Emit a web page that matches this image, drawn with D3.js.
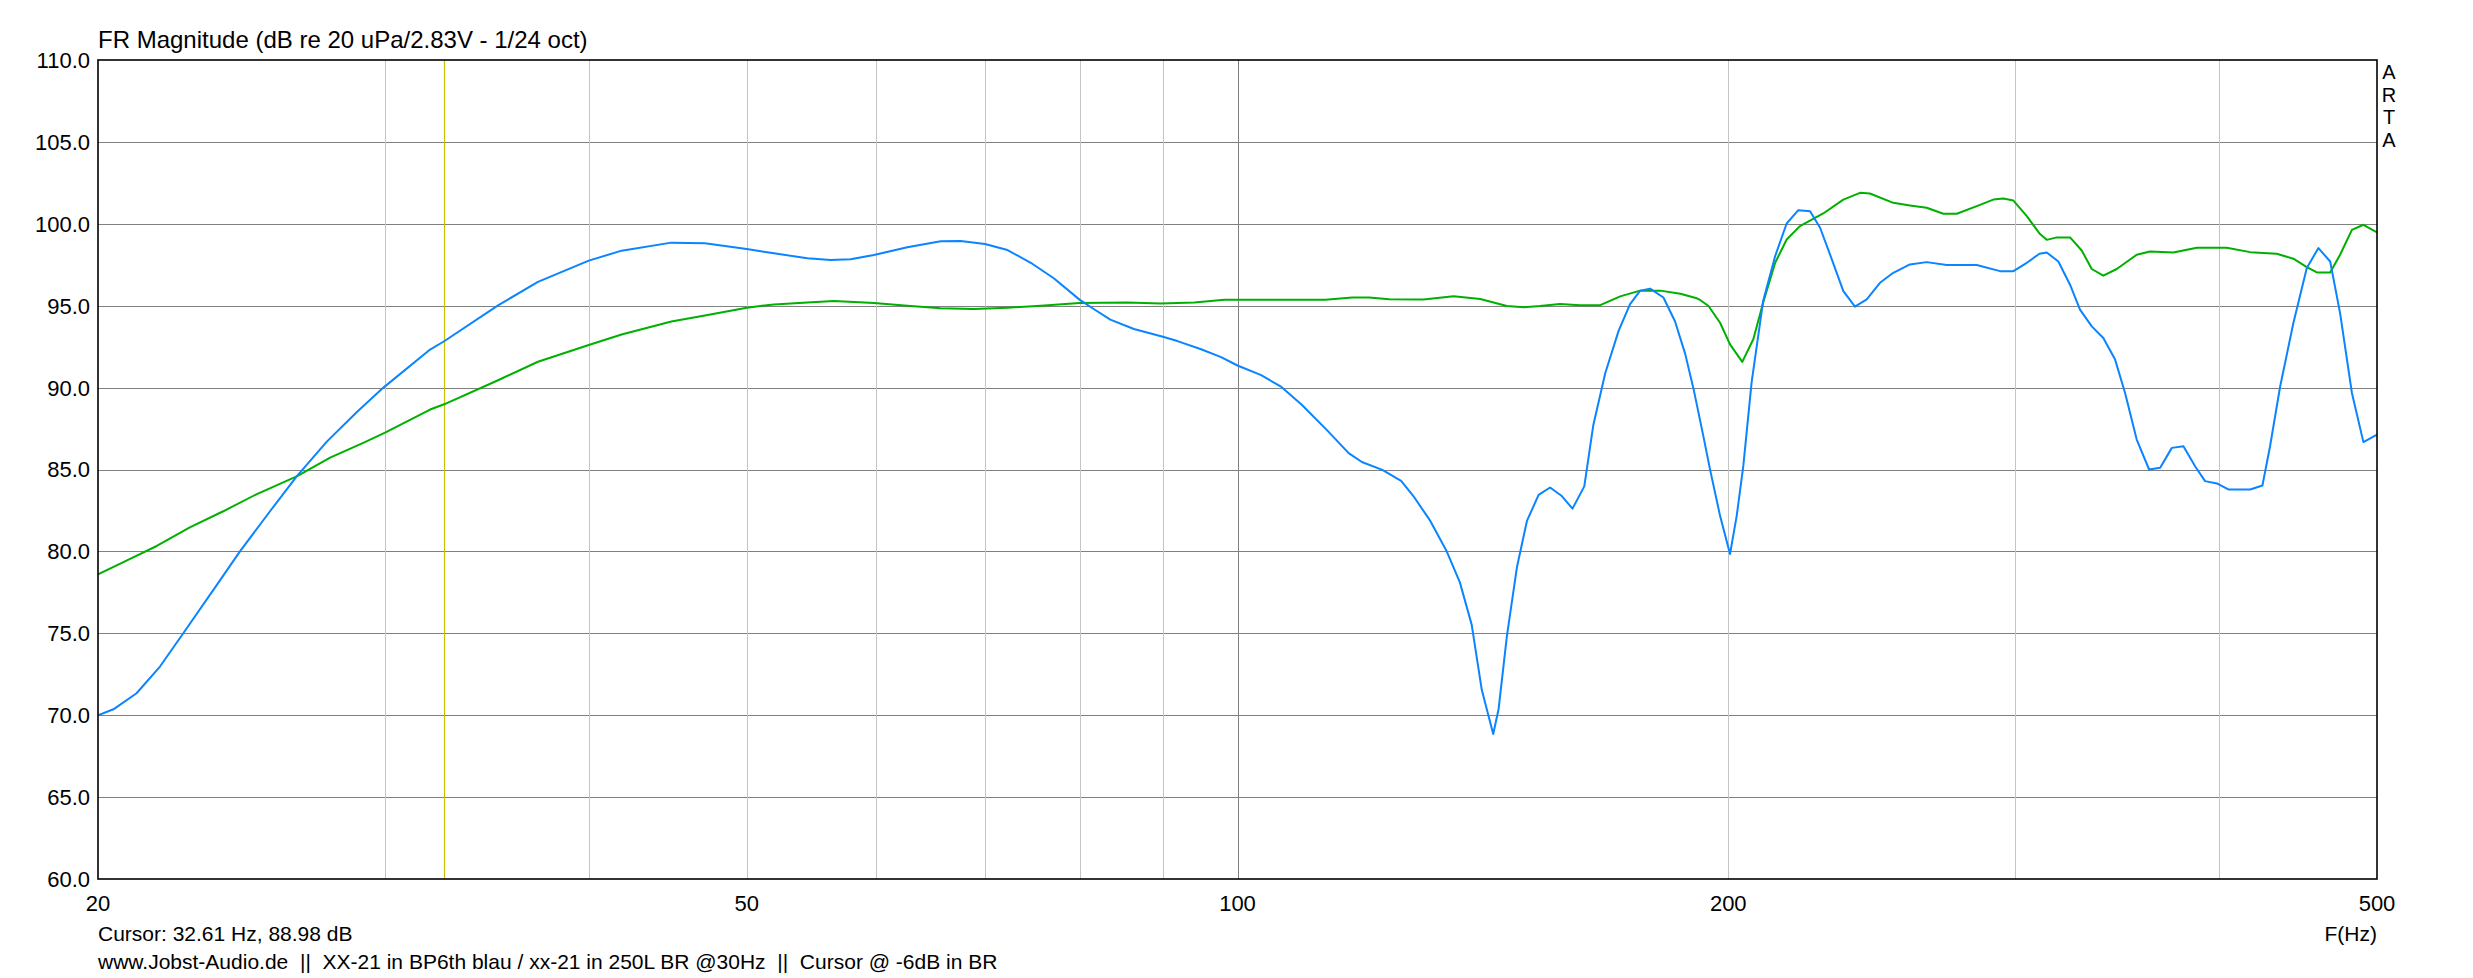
<!DOCTYPE html>
<html>
<head>
<meta charset="utf-8">
<script src="https://cdn.jsdelivr.net/npm/d3@7"></script>
<style>
  html, body { margin: 0; padding: 0; background: #ffffff; }
  svg { display: block; }
  text { font-family: "Liberation Sans", Arial, sans-serif; fill: #000; }
</style>
</head>
<body>
<svg id="chart" width="2473" height="978"></svg>
<script>
// ---------------- data ----------------
const titleText = "FR Magnitude (dB re 20 uPa/2.83V - 1/24 oct)";
const cursorText = "Cursor: 32.61 Hz, 88.98 dB";
const footerText = "www.Jobst-Audio.de  ||  XX-21 in BP6th blau / xx-21 in 250L BR @30Hz  ||  Cursor @ -6dB in BR";
const xAxisLabel = "F(Hz)";
const brandLetters = ["A", "R", "T", "A"];

const xTickLabels = [20, 50, 100, 200, 500];
const xGridMinor = [30, 40, 50, 60, 70, 80, 90, 200, 300, 400];
const xGridMajor = [100];
const yTicks = [60, 65, 70, 75, 80, 85, 90, 95, 100, 105, 110];
const cursorFreq = 32.61;

// Blue: XX-21 in BP6th
const blueFreq = [20, 20.44, 21.12, 21.83, 22.56, 23.65, 24.44, 25.50, 26.48, 27.63, 28.82, 29.93, 31.97, 32.61,
  35.19, 37.23, 40.0, 41.90, 44.95, 47.13, 50.0, 51.96, 54.47, 56.29, 57.91, 59.84, 62.73, 65.75, 67.64, 70.0,
  72.26, 74.68, 77.18, 80.0, 81.62, 83.56, 86.39, 90.0, 91.87, 94.99, 97.71, 100, 103.4, 106.4, 109.5, 113.7,
  117.0, 119.2, 122.7, 126.0, 128.2, 131.3, 134.4, 136.9, 139.2, 141.2, 143.5, 144.6, 146.3, 148.4, 150.5,
  153.0, 155.5, 158.1, 160.5, 163.2, 165.3, 168.1, 171.3, 174.1, 176.6, 179.1, 182.5, 185.5, 188.2, 190.4,
  193.1, 194.9, 197.7, 200.5, 202.4, 204.3, 206.7, 210.1, 213.7, 217.2, 220.8, 224.5, 227.7, 231.5, 235.3,
  239.2, 243.2, 247.8, 252.5, 258.5, 264.7, 272.3, 284.1, 293.6, 299.2, 304.9, 310.4, 313.6, 318.8, 324.1,
  328.7, 334.2, 339.7, 345.4, 350.3, 356.1, 362.4, 368.1, 374.2, 380.4, 386.7, 392.2, 398.8, 405.3, 418.0,
  425.3, 429.9, 436.1, 444.3, 452.8, 460.3, 468.0, 474.6, 482.6, 490.5, 500];
const blueDb = [70.0, 70.36, 71.34, 72.97, 75.0, 77.94, 80.0, 82.45, 84.58, 86.7, 88.5, 90.0, 92.32, 92.83,
  95.02, 96.45, 97.75, 98.36, 98.85, 98.81, 98.46, 98.2, 97.89, 97.79, 97.83, 98.1, 98.57, 98.93, 98.95, 98.77,
  98.4, 97.62, 96.66, 95.37, 94.8, 94.15, 93.58, 93.1, 92.84, 92.34, 91.86, 91.35, 90.76, 90.04, 88.95, 87.31,
  86.0, 85.46, 84.98, 84.3, 83.38, 81.86, 79.99, 78.11, 75.53, 71.55, 68.85, 70.38, 74.83, 79.05, 81.86,
  83.45, 83.9, 83.38, 82.61, 83.97, 87.72, 90.88, 93.46, 95.1, 95.92, 96.04, 95.5, 94.05, 92.06, 89.95,
  87.02, 85.02, 82.17, 79.84, 82.17, 85.22, 90.3, 95.28, 98.03, 100.02, 100.83, 100.77, 99.76, 97.83, 95.89,
  94.94, 95.39, 96.4, 97.01, 97.52, 97.66, 97.48, 97.48, 97.11, 97.11, 97.62, 98.17, 98.25, 97.7, 96.28,
  94.76, 93.74, 93.03, 91.71, 89.67, 86.83, 85.0, 85.1, 86.32, 86.42, 85.2, 84.29, 84.15, 83.78, 83.78,
  84.02, 86.42, 90.08, 93.94, 97.3, 98.52, 97.7, 94.55, 89.67, 86.67, 87.13];

// Green: xx-21 in 250L BR @30Hz
const greenFreq = [20, 20.73, 21.73, 22.77, 23.87, 25.03, 26.48, 27.76, 29.09, 30.0, 31.97, 32.61, 35.19, 37.23,
  40.0, 41.90, 44.95, 47.13, 50.0, 51.96, 54.47, 56.56, 59.84, 62.73, 65.75, 68.92, 72.26, 75.74, 80.0, 85.57,
  89.73, 94.08, 98.18, 103.4, 113.2, 117.6, 120.4, 123.9, 130.0, 135.7, 140.9, 146.3, 149.8, 153.3, 157.7,
  162.2, 166.9, 171.7, 176.6, 181.7, 186.9, 191.3, 192.2, 194.5, 197.7, 200.5, 204.0, 207.2, 210.1, 213.7,
  217.2, 221.3, 228.7, 235.3, 240.9, 244.3, 252.5, 258.5, 264.7, 271.0, 276.2, 284.1, 290.8, 295.0, 299.2,
  304.9, 310.4, 313.6, 318.1, 324.1, 329.5, 334.2, 339.7, 346.2, 356.1, 362.9, 375.0, 387.7, 404.4, 418.0,
  434.0, 444.3, 452.8, 459.3, 468.0, 474.6, 482.6, 490.5, 500];
const greenDb = [78.6, 79.35, 80.33, 81.47, 82.45, 83.5, 84.58, 85.72, 86.63, 87.25, 88.66, 88.98, 90.45, 91.58,
  92.6, 93.24, 94.04, 94.4, 94.88, 95.08, 95.2, 95.29, 95.16, 95.0, 94.84, 94.8, 94.88, 95.0, 95.16, 95.2,
  95.13, 95.2, 95.37, 95.37, 95.37, 95.5, 95.5, 95.39, 95.38, 95.57, 95.41, 94.98, 94.91, 94.98, 95.1,
  95.03, 95.03, 95.57, 95.92, 95.92, 95.73, 95.45, 95.35, 94.98, 93.96, 92.64, 91.57, 92.95, 95.18, 97.62,
  99.04, 99.86, 100.63, 101.48, 101.89, 101.85, 101.28, 101.12, 100.98, 100.61, 100.61, 101.08, 101.48, 101.54, 101.42,
  100.47, 99.41, 99.02, 99.17, 99.17, 98.37, 97.24, 96.83, 97.24, 98.11, 98.31, 98.25, 98.54, 98.54, 98.27,
  98.17, 97.87, 97.36, 97.03, 97.03, 98.11, 99.63, 99.94, 99.47];

// ---------------- layout ----------------
const W = 2473, H = 978;
const plot = { left: 98, right: 2377, top: 60, bottom: 879 };
const colors = { blue: "#0a84ff", green: "#00b000", cursor: "#c8c000",
  gridH: "#808080", gridMinor: "#c4c4c4", gridMajor: "#808080", frame: "#000" };

const svg = d3.select("#chart");
svg.append("rect").attr("width", W).attr("height", H).attr("fill", "#fff");

const x = d3.scaleLog().domain([20, 500]).range([plot.left, plot.right]);
const y = d3.scaleLinear().domain([60, 110]).range([plot.bottom, plot.top]);

const g = svg.append("g");

// horizontal grid
g.selectAll("line.hg").data(yTicks.filter(d => d > 60 && d < 110)).enter().append("line")
  .attr("x1", plot.left).attr("x2", plot.right)
  .attr("y1", d => Math.round(y(d)) + 0.5).attr("y2", d => Math.round(y(d)) + 0.5)
  .attr("stroke", colors.gridH).attr("stroke-width", 1);

// vertical grid
g.selectAll("line.vg").data(xGridMinor).enter().append("line")
  .attr("x1", d => Math.round(x(d)) + 0.5).attr("x2", d => Math.round(x(d)) + 0.5)
  .attr("y1", plot.top).attr("y2", plot.bottom)
  .attr("stroke", colors.gridMinor).attr("stroke-width", 1);
g.selectAll("line.vgm").data(xGridMajor).enter().append("line")
  .attr("x1", d => Math.round(x(d)) + 0.5).attr("x2", d => Math.round(x(d)) + 0.5)
  .attr("y1", plot.top).attr("y2", plot.bottom)
  .attr("stroke", colors.gridMajor).attr("stroke-width", 1);

// cursor
g.append("line")
  .attr("x1", Math.round(x(cursorFreq)) + 0.5).attr("x2", Math.round(x(cursorFreq)) + 0.5)
  .attr("y1", plot.top).attr("y2", plot.bottom)
  .attr("stroke", colors.cursor).attr("stroke-width", 1.2);

// curves
const clip = svg.append("clipPath").attr("id", "clip").append("rect")
  .attr("x", plot.left).attr("y", plot.top)
  .attr("width", plot.right - plot.left).attr("height", plot.bottom - plot.top);

const line = d3.line().x(d => x(d[0])).y(d => y(d[1]));
const greenData = greenFreq.map((f, i) => [f, greenDb[i]]);
const blueData = blueFreq.map((f, i) => [f, blueDb[i]]);

g.append("path").datum(greenData).attr("d", line)
  .attr("fill", "none").attr("stroke", colors.green).attr("stroke-width", 2)
  .attr("stroke-linejoin", "round").attr("clip-path", "url(#clip)");
g.append("path").datum(blueData).attr("d", line)
  .attr("fill", "none").attr("stroke", colors.blue).attr("stroke-width", 2)
  .attr("stroke-linejoin", "round").attr("clip-path", "url(#clip)");

// frame
g.append("rect")
  .attr("x", plot.left).attr("y", plot.top)
  .attr("width", plot.right - plot.left).attr("height", plot.bottom - plot.top)
  .attr("fill", "none").attr("stroke", colors.frame).attr("stroke-width", 1.6);

// y tick labels
const fmt = d3.format(".1f");
svg.append("g").selectAll("text").data(yTicks).enter().append("text")
  .attr("x", plot.left - 8).attr("y", d => y(d))
  .attr("dy", "0.36em").attr("text-anchor", "end")
  .attr("font-size", 22).text(d => fmt(d));

// x tick labels
svg.append("g").selectAll("text").data(xTickLabels).enter().append("text")
  .attr("x", d => x(d)).attr("y", 903)
  .attr("dy", "0.36em").attr("text-anchor", "middle")
  .attr("font-size", 22).text(d => d);

// title
svg.append("text").attr("x", plot.left).attr("y", 48)
  .attr("font-size", 24).text(titleText);

// ARTA
svg.append("g").selectAll("text").data(brandLetters).enter().append("text")
  .attr("x", 2389).attr("y", (d, i) => 79 + i * 22.5)
  .attr("text-anchor", "middle").attr("font-size", 20).text(d => d);

// bottom texts
svg.append("text").attr("x", plot.left).attr("y", 933).attr("dy", "0.36em")
  .attr("font-size", 21).text(cursorText);
svg.append("text").attr("x", plot.right).attr("y", 933).attr("dy", "0.36em")
  .attr("text-anchor", "end").attr("font-size", 21).text(xAxisLabel);
svg.append("text").attr("x", plot.left).attr("y", 961).attr("dy", "0.36em")
  .attr("font-size", 21).attr("xml:space", "preserve").style("white-space", "pre").text(footerText);
</script>
</body>
</html>
